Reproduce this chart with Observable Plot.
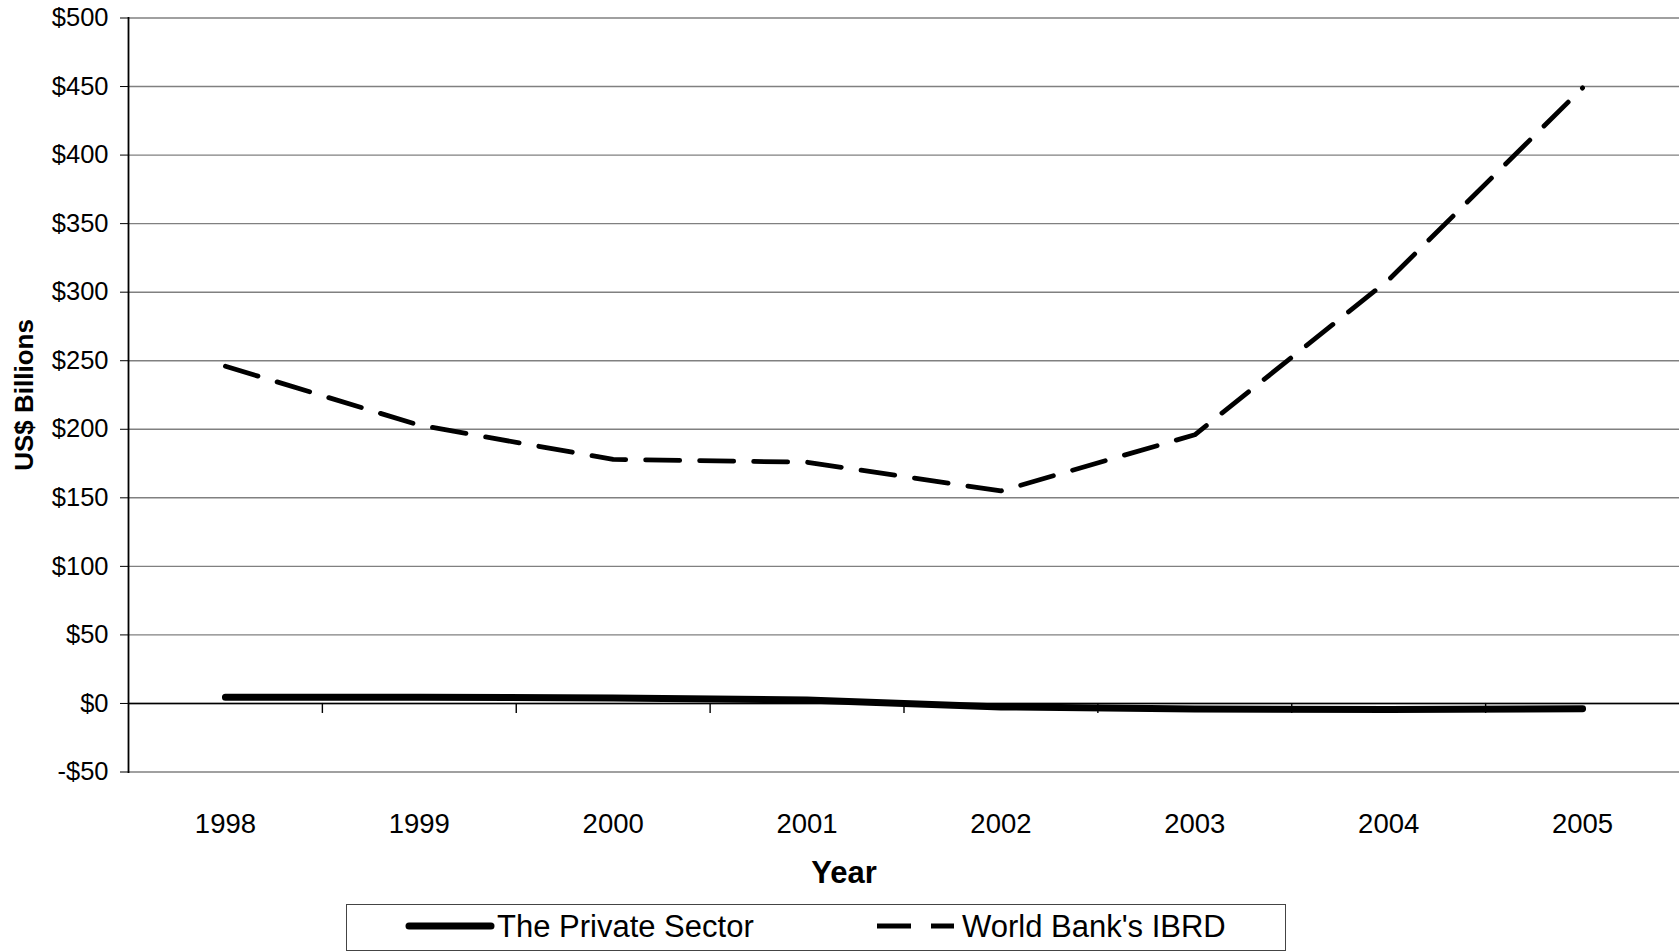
<!DOCTYPE html>
<html><head><meta charset="utf-8">
<script src="https://cdn.jsdelivr.net/npm/d3@7"></script>
<script src="https://cdn.jsdelivr.net/npm/@observablehq/plot@0.6"></script>
<style>
body{margin:0;background:#fff;font-family:"Liberation Sans",Arial,sans-serif;}
#wrap{position:relative;width:1679px;height:951px;overflow:hidden;}
#legend{position:absolute;left:346px;top:904px;width:940px;height:47px;border:1.5px solid #444;box-sizing:border-box;background:#fff;}
#legend svg{display:block;}
</style></head>
<body><div id="wrap"><div id="chart"></div><div id="legend"></div></div>
<script>
const years = [1998, 1999, 2000, 2001, 2002, 2003, 2004, 2005];
const privateSector = [4.5, 4.5, 4, 2.5, -2.5, -4, -4.5, -3.8];
const ibrd = [246, 203, 178, 176, 155, 196, 309, 449];
const seriesNames = ["The Private Sector", "World Bank's IBRD"];
const yTicks = [-50, 0, 50, 100, 150, 200, 250, 300, 350, 400, 450, 500];

const privRows = years.map((y, i) => ({year: y, value: privateSector[i]}));
const ibrdRows = years.map((y, i) => ({year: y, value: ibrd[i]}));
const boundaries = years.slice(0, -1).map(y => y + 0.5);
const dash = "34,20";

const chart = Plot.plot({
  width: 1679, height: 895,
  marginLeft: 128, marginRight: 0, marginTop: 17.5, marginBottom: 123.5,
  style: {fontFamily: '"Liberation Sans", Arial, sans-serif', background: "white", color: "#000"},
  x: {domain: [years[0] - 0.5, years[years.length - 1] + 0.5]},
  y: {domain: [yTicks[0], yTicks[yTicks.length - 1]]},
  marks: [
    Plot.ruleY(yTicks, {stroke: "#808080", strokeWidth: 1.4}),
    Plot.ruleY([0], {stroke: "#000", strokeWidth: 1.5}),
    Plot.ruleX(boundaries, {x: d => d, y1: 0, y2: 0, insetBottom: -10, stroke: "#000", strokeWidth: 1.4}),
    Plot.frame({anchor: "left", stroke: "#000", strokeWidth: 1.8}),
    Plot.axisY({ticks: yTicks, tickFormat: d => d < 0 ? `-$${-d}` : `$${d}`, tickSize: 8, tickPadding: 12, fontSize: 25.5, label: null}),
    Plot.axisX({ticks: years, tickFormat: d => String(d), tickSize: 0, tickPadding: 41, fontSize: 27.5, label: null}),
    Plot.line(ibrdRows, {x: "year", y: "value", stroke: "#000", strokeWidth: 4.8, strokeDasharray: dash}),
    Plot.line(privRows, {x: "year", y: "value", stroke: "#000", strokeWidth: 7, strokeLinecap: "round", strokeLinejoin: "round"}),
    Plot.text(["Year"], {frameAnchor: "bottom", dx: -60, dy: 111, fontSize: 31, fontWeight: "bold", text: d => d}),
    Plot.text(["US$ Billions"], {frameAnchor: "left", dx: -104, rotate: -90, textAnchor: "middle", fontSize: 26, fontWeight: "bold", text: d => d})
  ]
});
document.getElementById("chart").append(chart);

// legend
const ns = "http://www.w3.org/2000/svg";
const lsvg = document.createElementNS(ns, "svg");
lsvg.setAttribute("width", 937); lsvg.setAttribute("height", 44);
const items = [
  {name: seriesNames[0], x1: 62, x2: 144, tx: 150, sw: 7, dash: null},
  {name: seriesNames[1], x1: 530, x2: 607, tx: 615, sw: 4.8, dash: dash}
];
for (const it of items) {
  const ln = document.createElementNS(ns, "line");
  ln.setAttribute("x1", it.x1); ln.setAttribute("x2", it.x2);
  ln.setAttribute("y1", 21); ln.setAttribute("y2", 21);
  ln.setAttribute("stroke", "#000"); ln.setAttribute("stroke-width", it.sw);
  if (it.dash) ln.setAttribute("stroke-dasharray", it.dash); else ln.setAttribute("stroke-linecap", "round");
  lsvg.append(ln);
  const tx = document.createElementNS(ns, "text");
  tx.setAttribute("x", it.tx); tx.setAttribute("y", 21);
  tx.setAttribute("dy", "0.36em");
  tx.setAttribute("font-size", 31);
  tx.setAttribute("font-family", '"Liberation Sans", Arial, sans-serif');
  tx.textContent = it.name;
  lsvg.append(tx);
}
document.getElementById("legend").append(lsvg);
</script>
</body></html>
